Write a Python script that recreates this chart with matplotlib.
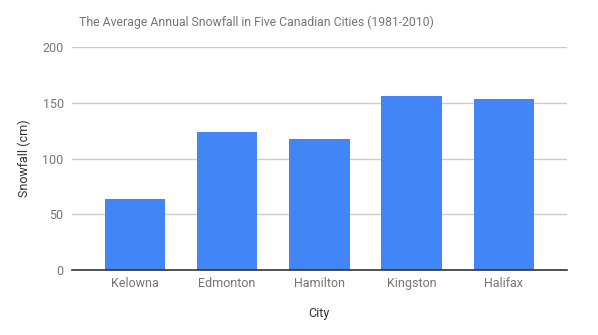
import matplotlib
matplotlib.use("Agg")
import matplotlib.pyplot as plt
import numpy as np

plt.rcParams["font.family"] = ["Roboto", "DejaVu Sans"]

# Average annual snowfall, 1981-2010
cities = ["Kelowna", "Edmonton", "Hamilton", "Kingston", "Halifax"]
snowfall = [63.5, 123.5, 117.5, 156, 153]
y_ticks = [0, 50, 100, 150, 200]

BAR_COLOR = "#4285f4"
TEXT_GREY = "#757575"
GRID_GREY = "#cccccc"

fig = plt.figure(figsize=(5.98, 3.35), dpi=100)
ax = fig.add_axes([72 / 598, 65 / 335, 494.7 / 598, 223 / 335])

x = np.arange(len(cities))
ax.bar(x, snowfall, width=0.654, color=BAR_COLOR, zorder=3)

ax.set_xlim(-0.68, len(cities) - 1 + 0.68)
ax.set_ylim(0, 200)
ax.set_yticks(y_ticks)
ax.set_xticks(x)
ax.set_xticklabels(cities)
ax.grid(axis="y", color=GRID_GREY, linewidth=1, zorder=0)

for side in ["top", "right", "left"]:
    ax.spines[side].set_visible(False)
ax.spines["bottom"].set_color("#333333")
ax.spines["bottom"].set_linewidth(1.2)
ax.spines["bottom"].set_zorder(4)

ax.tick_params(axis="both", length=0, labelsize=9, colors=TEXT_GREY)
ax.tick_params(axis="y", pad=6)
ax.tick_params(axis="x", pad=5)

ax.set_xlabel("City", fontsize=9, color="#333333", labelpad=12)
ax.set_ylabel("Snowfall (cm)", fontsize=9, color="#333333", labelpad=8.5)

fig.text(256 / 598, 1 - 22 / 335,
         "The Average Annual Snowfall in Five Canadian Cities (1981-2010)",
         ha="center", va="center", fontsize=8.8, color=TEXT_GREY)

fig.savefig("out.png", dpi=100)
